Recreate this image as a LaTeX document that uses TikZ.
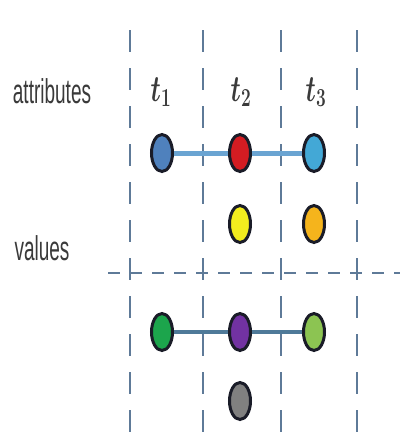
\documentclass[tikz,border=0pt]{standalone}
\usepackage{bm}
\usepackage{fontspec}
\setsansfont{Liberation Sans}
\usetikzlibrary{shapes.geometric}
\definecolor{gridc}{HTML}{5E7A98}
\definecolor{linkA}{HTML}{6AA4D2}
\definecolor{linkB}{HTML}{4F7A99}
\definecolor{cBlue}{HTML}{4F81BD}
\definecolor{cRed}{HTML}{D41C22}
\definecolor{cCyan}{HTML}{43A8D6}
\definecolor{cYellow}{HTML}{F2EC1E}
\definecolor{cOrange}{HTML}{F5B41C}
\definecolor{cGreen}{HTML}{1CA54C}
\definecolor{cPurple}{HTML}{7232A2}
\definecolor{cLGreen}{HTML}{8CC452}
\definecolor{cGray}{HTML}{808080}
\definecolor{rim}{HTML}{1A1C28}
\definecolor{tcol}{HTML}{3A3A3A}
\begin{document}
\begin{tikzpicture}[x=1pt,y=-1pt,
  dot/.style={ellipse,draw=rim,line width=3pt,minimum width=21pt,minimum height=37pt,inner sep=0pt},
  vgrid/.style={draw=gridc,line width=2.6pt,dash pattern=on 22pt off 16pt},
  hgrid/.style={draw=gridc,line width=2.6pt,dash pattern=on 12pt off 10pt},
  linkone/.style={draw=linkA,line width=5pt},
  linktwo/.style={draw=linkB,line width=4pt},
  lbl/.style={inner sep=0pt,text=tcol,font=\sffamily\fontsize{20}{20}\selectfont},
  tlbl/.style={inner sep=0pt,text=tcol,font=\fontsize{27}{27}\selectfont}]
\useasboundingbox (0,0) rectangle (400,445);
% grid
\foreach \x/\n in {130/g1,203/g2,281/g3,357/g4}{
  \coordinate (\n t) at (\x,30);
  \coordinate (\n b) at (\x,445);
  \draw[vgrid] (\n t) -- (\n b);
}
\coordinate (hl) at (108,273);
\coordinate (hr) at (400,273);
\draw[hgrid] (hl) -- (hr);
% labels
\node[lbl] (attr) at (52,91) {\scalebox{0.95}[1.72]{attributes}};
\node[lbl] (vals) at (42,248) {\scalebox{0.95}[1.72]{values}};
\node[tlbl] (t1) at (161,92) {\scalebox{1}[1.5]{$\bm{t}_{\bm{1}}$}};
\node[tlbl] (t2) at (241,92) {\scalebox{1}[1.5]{$\bm{t}_{\bm{2}}$}};
\node[tlbl] (t3) at (316,92) {\scalebox{1}[1.5]{$\bm{t}_{\bm{3}}$}};
% dots
\node[dot,fill=cBlue]   (a1) at (162,153) {};
\node[dot,fill=cRed]    (a2) at (240,153) {};
\node[dot,fill=cCyan]   (a3) at (314,153) {};
\node[dot,fill=cYellow] (b2) at (240,224) {};
\node[dot,fill=cOrange] (b3) at (314,224) {};
\node[dot,fill=cGreen]  (c1) at (162,332) {};
\node[dot,fill=cPurple] (c2) at (240,332) {};
\node[dot,fill=cLGreen] (c3) at (314,332) {};
\node[dot,fill=cGray]   (d2) at (240,401) {};
% links
\draw[linkone] (a1) -- (a2);
\draw[linkone] (a2) -- (a3);
\draw[linktwo] (c1) -- (c2);
\draw[linktwo] (c2) -- (c3);
\end{tikzpicture}
\end{document}
